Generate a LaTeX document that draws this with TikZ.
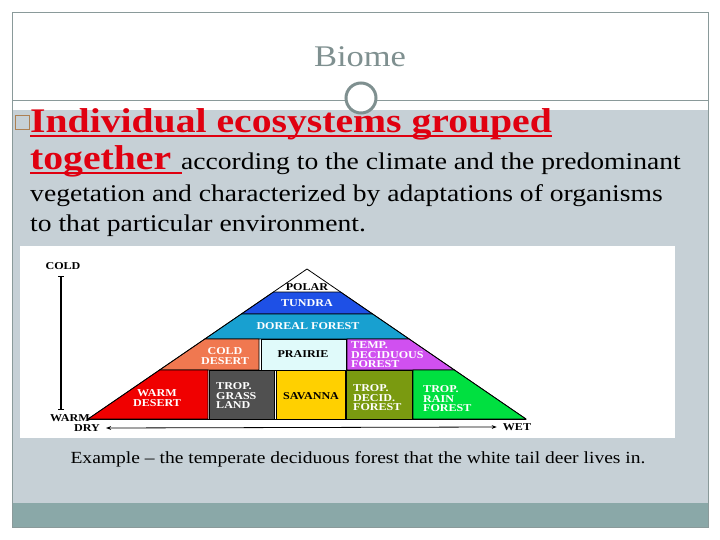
\documentclass[tikz,border=0pt]{standalone}
\usepackage{fontspec}
\setmainfont{Liberation Serif}[FakeStretch=1.15]
\usetikzlibrary{arrows.meta}
\definecolor{slidebg}{HTML}{C6D0D6}
\definecolor{band}{HTML}{8AA8A8}
\definecolor{frame}{HTML}{8A9A9A}
\definecolor{titlec}{HTML}{7F9090}
\definecolor{redt}{HTML}{E00010}
\definecolor{tundra}{HTML}{1E50E6}
\definecolor{boreal}{HTML}{18A0D0}
\definecolor{colddes}{HTML}{F07850}
\definecolor{prairie}{HTML}{E0FAFA}
\definecolor{tempdec}{HTML}{D050F0}
\definecolor{warmdes}{HTML}{F00000}
\definecolor{tropgr}{HTML}{505050}
\definecolor{savanna}{HTML}{FFD000}
\definecolor{tropdec}{HTML}{7A9A10}
\definecolor{rainf}{HTML}{00E040}
\tikzset{
  cell/.style={draw=black, line width=0.6pt},
  lbl/.style={font=\fontsize{10.5}{9.5}\selectfont\bfseries, align=center, text=white, inner sep=0pt},
  lblk/.style={lbl, text=black},
  axl/.style={font=\fontsize{10.5}{10}\selectfont\bfseries, inner sep=0pt},
  body/.style={font=\fontsize{24}{30}\selectfont, anchor=base west, inner sep=0pt},
}
\begin{document}
\begin{tikzpicture}[x=1pt,y=-1pt]
\useasboundingbox (0,0) rectangle (720,540);
\fill[white] (0,0) rectangle (720,540);
\fill[slidebg] (12,110) rectangle (708,503);
\fill[band] (12,503) rectangle (708,527);
\draw[frame, line width=0.6pt] (12,12) rectangle (708,527);
\draw[frame, line width=0.6pt] (12,100) -- (708,100);
\node[font=\fontsize{30}{30}\selectfont, text=titlec] (title) at (360,57) {Biome};
\node[circle, draw=titlec, fill=white, line width=3pt, minimum size=30pt, inner sep=0pt] (orn) at (361,98) {};
\node[draw=brown!70!gray, minimum size=14pt, inner sep=0pt] (bul) at (22,122) {};
\node[body, font=\fontsize{34.5}{34}\selectfont\bfseries, text=redt] (l1) at (30,133) {Individual ecosystems grouped};
\draw[redt, line width=1.5pt] (30,136) -- (l1.east |- 0,136);
\node[body] (l2) at (30,170) {{\fontsize{34.5}{34}\selectfont\bfseries\color{redt}together }according to the climate and the predominant};
\draw[redt, line width=1.5pt] (30,173) -- (182,173);
\node[body] (l3) at (30,202) {vegetation and characterized by adaptations of organisms};
\node[body] (l4) at (30,232) {to that particular environment.};
\fill[white] (20,246) rectangle (675,438);
\fill[white] (307,269) -- (273.4,292) -- (340.6,292) -- cycle;
\draw[cell, fill=tundra] (273.4,292) -- (340.6,292) -- (372.7,314) -- (241.3,314) -- cycle;
\draw[cell, fill=boreal] (241.3,314) -- (372.7,314) -- (409.2,339) -- (204.8,339) -- cycle;
\draw[cell, fill=colddes] (204.8,339) -- (259,339) -- (259,370) -- (159.5,370) -- cycle;
\draw[cell, fill=prairie] (261,339) rectangle (346,370);
\draw[cell, fill=tempdec] (347,339) -- (409.2,339) -- (454.5,370) -- (347,370) -- cycle;
\draw[cell, fill=warmdes] (159.5,370) -- (208,370) -- (208,419) -- (88,419) -- cycle;
\draw[cell, fill=tropgr] (209,370) rectangle (274,419);
\draw[cell, fill=savanna] (276,370) rectangle (345,419);
\draw[cell, fill=tropdec] (346,370) rectangle (412,419);
\draw[cell, fill=rainf] (413,370) -- (454.5,370) -- (526,419) -- (413,419) -- cycle;
\draw[black, line width=0.8pt] (88,419) -- (307,269) -- (526,419);
\draw[black, line width=0.8pt] (88,419) -- (526,419);
\node[lblk] (polar) at (307,287) {POLAR};
\node[lbl] (tun) at (307,303) {TUNDRA};
\node[lbl] (bor) at (308,326) {DOREAL FOREST};
\node[lbl] (cd) at (225,356) {COLD\\DESERT};
\node[lblk] (pr) at (303,354) {PRAIRIE};
\node[lbl, align=left, anchor=west] (td) at (351,355) {TEMP.\\DECIDUOUS\\FOREST};
\node[lbl] (wd) at (157,398) {WARM\\DESERT};
\node[lbl, align=left, anchor=west] (tg) at (216,396) {TROP.\\GRASS\\LAND};
\node[lblk] (sv) at (311,396) {SAVANNA};
\node[lbl, align=left, anchor=west] (tdf) at (353,398) {TROP.\\DECID.\\FOREST};
\node[lbl, align=left, anchor=west] (rf) at (423,399) {TROP.\\RAIN\\FOREST};
\node[axl] (cold) at (63,266) {COLD};
\node[axl] (warm) at (70,418) {WARM};
\coordinate (ct) at (61,276);
\coordinate (cb) at (61,410);
\draw[line width=1.2pt, {Bar[width=6pt]}-{Bar[width=6pt]}] (ct) -- (cb);
\node[axl] (dry) at (87,428) {DRY};
\node[axl] (wet) at (517,427) {WET};
\draw[line width=0.8pt, {Stealth[length=5pt]}-{Stealth[length=5pt]}] ([xshift=6pt]dry.east) -- ([xshift=-6pt]wet.west);
\node[font=\fontsize{17}{17}\selectfont] (cap) at (358,459) {Example -- the temperate deciduous forest that the white tail deer lives in.};
\end{tikzpicture}
\end{document}
